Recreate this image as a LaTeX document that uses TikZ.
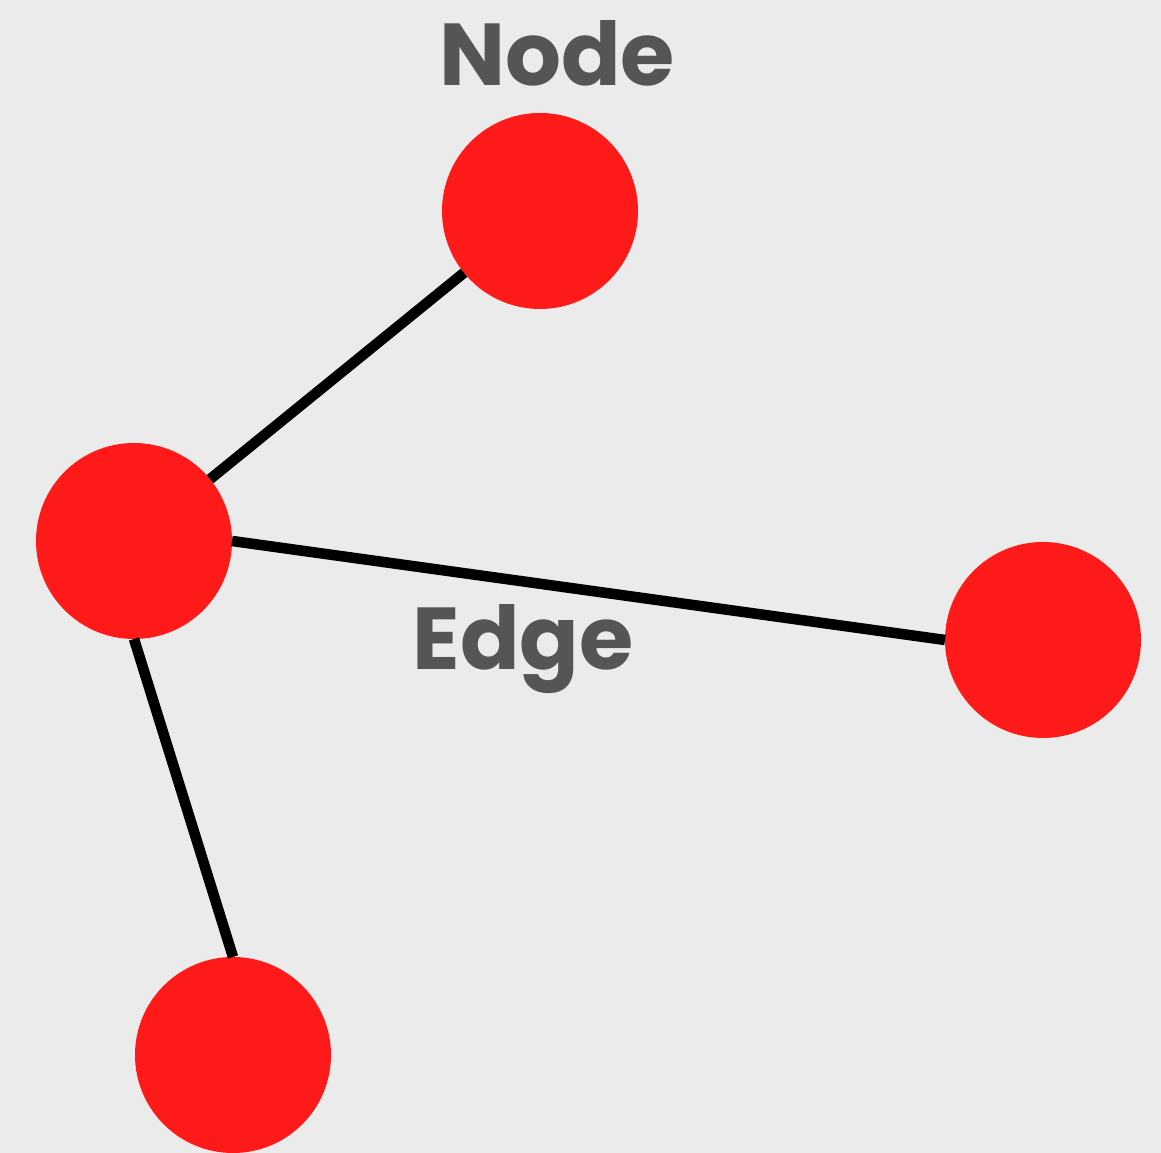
\documentclass[tikz,border=0pt]{standalone}
\usepackage{fontspec}
\setmainfont{Poppins}
\usepackage{tikz}
\usetikzlibrary{calc}

\definecolor{bgGray}{HTML}{EBEBEB}
\definecolor{dotRed}{HTML}{FF1A1A}
\definecolor{labelGray}{HTML}{555555}

\tikzset{
    vertex/.style={circle, fill=dotRed, minimum size=1.96cm, inner sep=0pt, outer sep=0pt},
    link/.style={line width=3pt, black},
    tag/.style={text=labelGray, font=\fontsize{25}{28}\selectfont\bfseries}
}

\begin{document}
\begin{tikzpicture}
    % Background
    \fill[bgGray] (0,0) rectangle (11.61,11.53);
    \useasboundingbox (0,0) rectangle (11.61,11.53);

    % Nodes
    \node[vertex] (top) at (5.40,9.42) {};
    \node[vertex] (hub) at (1.34,6.12) {};
    \node[vertex] (east) at (10.43,5.13) {};
    \node[vertex] (low) at (2.33,0.98) {};

    % Edges
    \draw[link] (hub) -- (top);
    \draw[link] (hub.east) -- (east.west);
    \draw[link] (hub.south) -- (low.north);

    % Labels
    \node[tag] (nodetag) at (5.57,11.00) {Node};
    \node[tag] (edgetag) at (5.23,5.04) {Edge};
\end{tikzpicture}
\end{document}
